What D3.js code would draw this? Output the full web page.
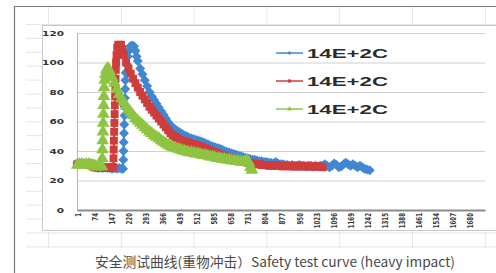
<!DOCTYPE html>
<html>
<head>
<meta charset="utf-8">
<script src="https://cdn.jsdelivr.net/npm/d3@7"></script>
<style>
  html, body { margin: 0; padding: 0; background: #fff; }
  svg { display: block; }
</style>
</head>
<body>
<div id="chart"></div>
<script>
// readings from the picture: [sample number, value]
var blueData = [[1,31.5],[10,31],[20,32],[30,31.5],[40,31],[50,31.5],[60,31.5],[68,31],[72,29],[80,29],[90,28.5],[100,29],[110,28.5],[120,29],[130,28.5],[140,28.5],[150,28],[160,28.5],[170,28],[180,28.5],[190,28],[197,28],
  [198,34],[199,40],[200,46],[201,52],[202,58],[203,64],[204,70],[205,76],[206,82],[207,88],[208,93],[212,99],[217,104],[222,108],[228,111],[236,111.5],[244,111],[250,108],
  [255,104],[260,101],[270,96],[280,92],[290,88],[300,84],[310,80],[320,77],[330,74.5],[340,72],[350,69.5],[360,67],[370,64.5],[380,62],[390,59.5],[400,57.5],[410,56],[420,54.5],[430,53.5],[440,52.5],[450,51.5],[460,50.5],[470,50],[480,49],[490,48.5],[500,48],[510,47.5],[520,47],[530,46.5],[540,46],[550,45],[560,44.5],[570,43.5],[580,43],[590,42.5],[600,42],[610,41.5],[620,41],[630,40],[640,39.5],[650,39],[660,38.5],[670,38],[680,37.5],[690,37],[700,36.5],[710,36],[720,35.5],[730,35],[740,34.5],[750,34],[760,34],[770,33.5],[780,33],[790,33],[800,32.5],[810,32.5],[820,32],[830,32],[840,31.5],[850,32.5],[860,31.5],[870,31],[880,31],[890,30.5],[900,30.5],[910,30],[920,30.5],[930,30],[940,30],[950,30.5],[960,30],[970,30],[980,29.5],[990,30],[1000,30],[1010,29.5],[1020,30],[1030,29.5],[1040,30],[1050,30],[1060,31],[1070,30],[1080,29],[1090,30],[1100,31.5],[1110,30.5],[1120,29],[1130,29.5],[1140,31],[1150,32],[1160,31],[1170,30],[1180,31],[1190,30],[1200,29],[1210,30],[1220,29],[1230,28],[1240,27.5],[1252,27]];

var redData = [[1,31],[10,31.5],[20,31],[30,31.5],[40,31],[50,31],[60,31.5],[68,30.5],[72,29],[80,29],[90,29],[100,28.5],[110,29],[120,28.5],[130,29],[140,28.5],[150,29],[155,29],
  [156,35],[157,41],[158,47],[159,53],[160,59],[161,65],[162,71],[163,77],[164,83],[165,89],[166,95],[167,100],[169,105],[172,110],[176,112],[182,112],[188,112],[194,109],
  [200,105],[210,100],[220,96],[230,92.5],[240,89],[250,86],[260,83],[270,80],[280,77.5],[290,75],[300,72.5],[310,70],[320,68],[330,66],[340,64],[350,62],[360,60],[370,58],[380,56],[390,54],[400,52],[410,50.5],[420,49.5],[430,48.5],[440,47.5],[450,47],[460,46.5],[470,46],[480,45.5],[490,45],[500,44.5],[510,44],[520,43.5],[530,43],[540,42],[550,41.5],[560,41],[570,40.5],[580,39.5],[590,39],[600,38.5],[610,37.5],[620,37],[630,36.5],[640,36],[650,35.5],[660,35],[670,34.5],[680,34],[690,33.5],[700,33],[710,33],[720,32.5],[730,32],[740,32],[750,31.5],[760,31.5],[770,31],[780,31],[790,30.5],[800,30.5],[810,30.5],[820,30],[830,30],[840,30],[850,30.5],[860,30],[870,30],[880,29.5],[890,30],[900,30],[910,29.5],[920,30],[930,29.5],[940,29.5],[950,30],[960,29.5],[970,29.5],[980,30],[990,29.5],[1000,29.5],[1010,29.5],[1020,29.5],[1030,29.5],[1040,29.5],[1051,29]];

var greenData = [[1,30.5],[10,31],[20,31],[30,30.5],[40,31],[50,31],[60,30.5],[68,30],[72,29.5],[80,29.5],[90,29.5],[100,29.5],[107,29.5],
  [108,35],[109,41],[110,47],[111,53],[112,59],[113,65],[114,71],[115,77],[116,83],[118,88],[121,92],[125,95],[130,96],[135,95.5],
  [140,94],[150,90],[160,86],[170,82],[180,78.5],[190,75.5],[200,73],[210,70.5],[220,68],[230,66],[240,64],[250,62],[260,60.5],[270,59],[280,57.5],[290,56],[300,54.5],[310,53],[320,52],[330,50.5],[340,49.5],[350,48.5],[360,47],[370,46],[380,45],[390,44],[400,43],[410,42.5],[420,42],[430,41.5],[440,41],[450,40.5],[460,40],[470,39.5],[480,39],[490,39],[500,38.5],[510,38],[520,38],[530,37.5],[540,37],[550,37],[560,36.5],[570,36],[580,36],[590,35.5],[600,35],[610,35],[620,34.5],[630,34.5],[640,34],[650,34],[660,33.5],[670,33.5],[680,33],[690,33],[700,32.5],[710,32.5],[720,33],[728,33.5],[736,32],[742,29],[748,27]];

var seriesNames = ["14E+2C", "14E+2C", "14E+2C"];
var yTicks = [0, 20, 40, 60, 80, 100, 120];
var xTickLabels = [1, 74, 147, 220, 293, 366, 439, 512, 585, 658, 731, 804, 877, 950, 1023, 1096, 1169, 1242, 1315, 1388, 1461, 1534, 1607, 1680];
var caption = "安全测试曲线(重物冲击）Safety test curve (heavy impact)";

var W = 496, H = 273;
var svg = d3.select("#chart").append("svg").attr("width", W).attr("height", H);

// spreadsheet cells behind the pasted chart
var sheet = svg.append("g").attr("stroke", "#e6e6e6").attr("stroke-width", 1);
for (var r = 0; r < 17; r++) {
    var ry = 24.5 + r * 13.9;
    sheet.append("line").attr("x1", 26).attr("x2", W).attr("y1", ry).attr("y2", ry);
}
for (var c = 0; c < 7; c++) {
    var cx = 48.5 + c * 72.8;
    sheet.append("line").attr("x1", cx).attr("x2", cx).attr("y1", 6).attr("y2", 248);
}

// chart area
svg.append("rect").attr("x", 42.5).attr("y", 25.5).attr("width", 480).attr("height", 205)
    .attr("fill", "#fff").attr("stroke", "#c8c8c8");

// photo frame
svg.append("path").attr("d", "M14.5," + H + "V6.5H" + W)
    .attr("fill", "none").attr("stroke", "#7a7a7a").attr("stroke-width", 1.2);

var x = d3.scaleLinear().domain([0, 1745]).range([77, 485]);
var y = d3.scaleLinear().domain([0, 120]).range([210, 33]);

// gridlines
svg.append("g")
    .attr("transform", "translate(77,0)")
    .call(d3.axisLeft(y).tickValues(yTicks).tickSize(-408).tickFormat(""))
    .call(function(g) {
        g.select(".domain").remove();
        g.selectAll("line").attr("stroke", "#cfcfcf");
    });

// y axis
var yAxis = svg.append("g")
    .attr("transform", "translate(77,0)")
    .call(d3.axisLeft(y).tickValues(yTicks).tickSize(0).tickPadding(0));
yAxis.select(".domain").attr("stroke", "#b5b5b5");
yAxis.selectAll("text")
    .attr("x", -13 / 1.5)
    .attr("transform", "scale(1.5,1)")
    .style("font-family", "DejaVu Sans")
    .style("font-size", "7px")
    .style("font-weight", "bold")
    .attr("fill", "#333");

// x axis
var xAxis = svg.append("g")
    .attr("transform", "translate(0,210)")
    .call(d3.axisBottom(x).tickValues(xTickLabels).tickSize(0).tickFormat(d3.format("d")));
xAxis.select(".domain").attr("stroke", "#8c8c8c").attr("stroke-width", 2);
xAxis.selectAll("text")
    .attr("y", 0)
    .attr("x", -3)
    .attr("dy", "0.35em")
    .attr("text-anchor", "end")
    .attr("transform", "scale(1.5,1) rotate(-90)")
    .style("font-family", "DejaVu Sans")
    .style("font-size", "5.5px")
    .style("font-weight", "bold")
    .attr("fill", "#3a3a3a");

var series = [
    { name: seriesNames[0], data: blueData, color: "#4287d2", shape: "diamond" },
    { name: seriesNames[1], data: redData, color: "#cf3c3c", shape: "square" },
    { name: seriesNames[2], data: greenData, color: "#8ec442", shape: "triangle" }
];

function markerPath(shape, s) {
    if (shape === "square") return d3.symbol(d3.symbolSquare, 62 * s * s)();
    if (shape === "triangle") return d3.symbol(d3.symbolTriangle, 70 * s * s)();
    return d3.symbol(d3.symbolSquare, 50 * s * s)();
}

var line = d3.line()
    .x(function(d) { return x(d[0]); })
    .y(function(d) { return y(d[1]); });

series.forEach(function(s) {
    var g = svg.append("g");
    g.append("path").datum(s.data)
        .attr("d", line)
        .attr("fill", "none")
        .attr("stroke", s.color)
        .attr("stroke-width", 2);
    g.selectAll(".mark")
        .data(s.data)
        .enter().append("path")
        .attr("class", "mark")
        .attr("d", markerPath(s.shape, 1))
        .attr("transform", function(d) {
            return "translate(" + x(d[0]) + "," + y(d[1]) + ")" + (s.shape === "diamond" ? " rotate(45)" : "");
        })
        .attr("fill", s.color);
});

// legend
var legend = svg.append("g").selectAll("g")
    .data(series)
    .enter().append("g")
    .attr("transform", function(d, i) { return "translate(276," + (53 + i * 28) + ")"; });
legend.append("line")
    .attr("x1", 0).attr("x2", 27)
    .attr("stroke", function(d) { return d.color; })
    .attr("stroke-width", 1.5);
legend.append("path")
    .attr("d", function(d) { return markerPath(d.shape, 0.4); })
    .attr("transform", function(d) { return "translate(13.5,0)" + (d.shape === "diamond" ? " rotate(45)" : ""); })
    .attr("fill", function(d) { return d.color; });
legend.append("text")
    .attr("x", 31)
    .attr("y", 4.5)
    .attr("textLength", 81)
    .attr("lengthAdjust", "spacingAndGlyphs")
    .style("font-family", "Liberation Sans, Arial, sans-serif")
    .style("font-size", "12.5px")
    .style("font-weight", "bold")
    .attr("fill", "#2a2a2a")
    .text(function(d) { return d.name; });

// caption under the picture
svg.append("text")
    .attr("x", 95)
    .attr("y", 267)
    .attr("textLength", 360)
    .attr("lengthAdjust", "spacingAndGlyphs")
    .style("font-family", "Noto Sans CJK SC, Noto Sans, sans-serif")
    .style("font-size", "13.5px")
    .attr("fill", "#4a4a4a")
    .text(caption);
</script>
</body>
</html>
